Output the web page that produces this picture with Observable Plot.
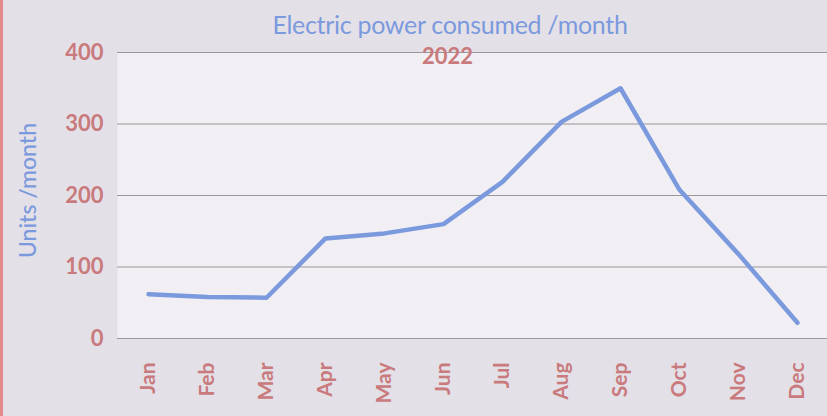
<!DOCTYPE html>
<html>
<head>
<meta charset="utf-8">
<script src="https://cdn.jsdelivr.net/npm/d3@7"></script>
<script src="https://cdn.jsdelivr.net/npm/@observablehq/plot@0.6"></script>
<style>
  html, body { margin: 0; padding: 0; }
  body { width: 827px; height: 416px; overflow: hidden; background: #e4e0e7; }
  #wrap { position: relative; width: 827px; height: 416px; border-left: 3px solid #e48a8c; box-sizing: border-box; }
  #title { position: absolute; top: 9px; left: 0; width: 894px; text-align: center;
           font-family: Lato, sans-serif; font-size: 25px; color: #7b9ade; letter-spacing: -0.3px; }
  #chart { position: absolute; top: 0; left: -3px; }
</style>
</head>
<body>
<div id="wrap">
  <div id="chart"></div>
  <div id="title">Electric power consumed /month</div>
</div>
<script>
const months = ["Jan","Feb","Mar","Apr","May","Jun","Jul","Aug","Sep","Oct","Nov","Dec"];
const units  = [62, 58, 57, 140, 147, 160, 219, 303, 350, 208, 118, 22];
const yTicks = [0, 100, 200, 300, 400];
const subtitle = "2022";
const yLabel = "Units /month";

const data = months.map((m, i) => ({month: m, value: units[i]}));
const red = "#c97a7c";
const blue = "#7b9ade";

const chart = Plot.plot({
  width: 827,
  height: 416,
  marginTop: 52,
  marginBottom: 78,
  marginLeft: 117,
  marginRight: 0,
  style: {background: "transparent", fontFamily: "Lato, sans-serif"},
  x: {type: "point", domain: months, padding: 0.5},
  y: {domain: [0, 400]},
  marks: [
    Plot.frame({fill: "#f1eff3", stroke: "none"}),
    Plot.ruleY(yTicks, {stroke: "#9a9699", strokeWidth: 1.2}),
    Plot.ruleX([0], {frameAnchor: "left", stroke: "#b0acb2", strokeWidth: 1.2}),
    Plot.axisY({ticks: yTicks, tickSize: 0, tickPadding: 14, label: null,
                fontSize: 22, fontWeight: "bold", fill: red}),
    Plot.axisX({tickSize: 0, tickPadding: 24, tickRotate: -90, label: null,
                fontSize: 21, fontWeight: "bold", fill: red}),
    Plot.text([yLabel], {frameAnchor: "left", textAnchor: "middle", dx: -89, dy: -5, rotate: -90,
                fontSize: 23, fill: blue, fontWeight: 500}),
    Plot.text([subtitle], {frameAnchor: "top", dx: -25, dy: -4, fontSize: 22,
                fill: red, fontWeight: "bold"}),
    Plot.line(data, {x: "month", y: "value", stroke: blue, strokeWidth: 4.5,
                     strokeLinecap: "round", strokeLinejoin: "round"})
  ]
});
document.getElementById("chart").appendChild(chart);
</script>
</body>
</html>
